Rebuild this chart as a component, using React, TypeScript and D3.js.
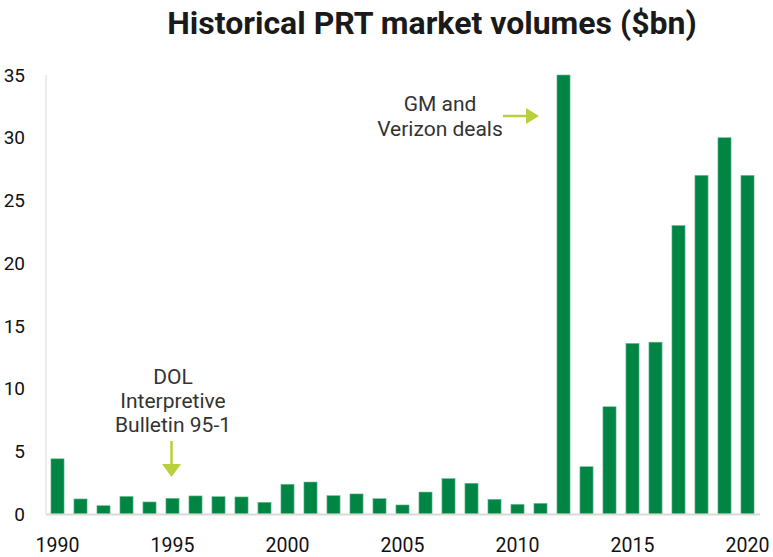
import React from "react";
import * as d3 from "d3";

const years: number[] = d3.range(1990, 2021);
const volumes: number[] = [
  4.4, 1.2, 0.66, 1.4, 0.96, 1.25, 1.44, 1.38, 1.36, 0.93,
  2.37, 2.55, 1.46, 1.6, 1.22, 0.72, 1.75, 2.82, 2.45, 1.17,
  0.77, 0.85, 35, 3.77, 8.55, 13.6, 13.7, 23, 27, 30, 27,
];
const yTicks: number[] = [0, 5, 10, 15, 20, 25, 30, 35];
const xTickYears: number[] = [1990, 1995, 2000, 2005, 2010, 2015, 2020];
const title = "Historical PRT market volumes ($bn)";
const noteGM: string[] = ["GM and", "Verizon deals"];
const noteDOL: string[] = ["DOL", "Interpretive", "Bulletin 95-1"];

export default function App() {
  const W = 773, H = 557;
  const x = d3.scaleBand<number>().domain(years).range([46, 759]).paddingInner(0.43).paddingOuter(0.215);
  const y = d3.scaleLinear().domain([0, 35]).range([514, 75]);
  const font = "Roboto, 'Noto Sans', sans-serif";
  const arrow = "#b9cf3b";
  const cx = (yr: number) => (x(yr) as number) + x.bandwidth() / 2;

  return (
    <svg width={W} height={H} style={{ position: "absolute", left: 0, top: 0 }} fontFamily={font}>
      <text x={432} y={34} textAnchor="middle" fontSize={32} fontWeight="bold" fill="#1a1a1a">{title}</text>
      {/* y axis line */}
      <line x1={46} x2={46} y1={y(35)} y2={y(0)} stroke="#d9d9d9" strokeWidth={1} />
      {yTicks.map((t) => (
        <text key={t} x={25} y={y(t)} dy="0.35em" textAnchor="end" fontSize={19} fill="#111">{t}</text>
      ))}
      {years.map((yr, i) => (
        <rect key={yr} x={x(yr)} y={y(volumes[i])} width={x.bandwidth()} height={y(0) - y(volumes[i])}
          fill="#008544" stroke="#6dbb8c" strokeWidth={0.6} />
      ))}
      <line x1={46} x2={760} y1={y(0) + 0.5} y2={y(0) + 0.5} stroke="#d9d9d9" strokeWidth={2} />
      {xTickYears.map((yr) => (
        <text key={yr} x={cx(yr)} y={552} textAnchor="middle" fontSize={19.5} fill="#111">{yr}</text>
      ))}
      {/* GM annotation */}
      {noteGM.map((s, i) => (
        <text key={s} x={440} y={111 + i * 24.5} textAnchor="middle" fontSize={21} fill="#333">{s}</text>
      ))}
      <line x1={503} x2={528} y1={116} y2={116} stroke={arrow} strokeWidth={2.5} />
      <path d="M526,108 L539,116 L526,124 Z" fill={arrow} />
      {/* DOL annotation */}
      {noteDOL.map((s, i) => (
        <text key={s} x={173} y={384 + i * 24} textAnchor="middle" fontSize={21} fill="#333">{s}</text>
      ))}
      <line x1={171.5} x2={171.5} y1={441} y2={466} stroke={arrow} strokeWidth={2.5} />
      <path d="M162,464 L171.5,477 L181,464 Z" fill={arrow} />
    </svg>
  );
}
